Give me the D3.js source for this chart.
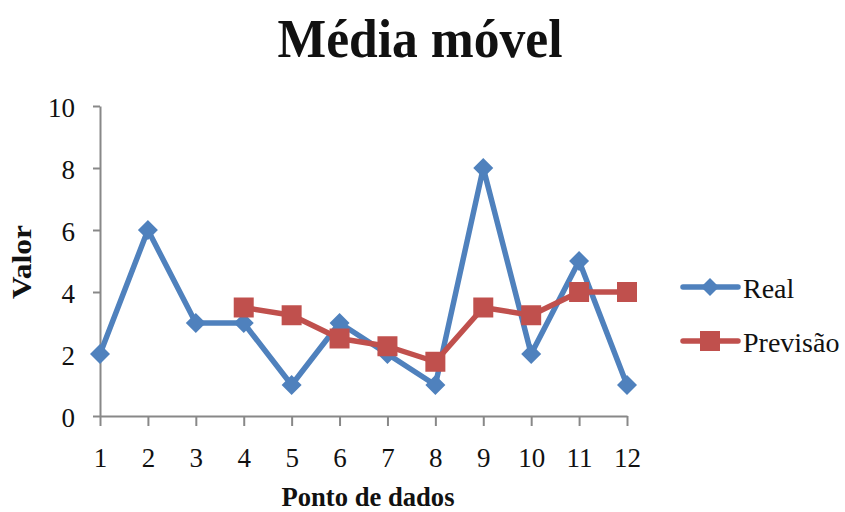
<!DOCTYPE html>
<html>
<head>
<meta charset="utf-8">
<script src="https://cdn.jsdelivr.net/npm/d3@7"></script>
<style>
  html, body { margin: 0; padding: 0; background: #fff; }
  svg { display: block; }
  text { font-family: "Liberation Serif", "Times New Roman", serif; fill: #111; }
</style>
</head>
<body>
<div id="chart"></div>
<script>
// Data: observed values and 4-period moving-average forecast
const categories = [1, 2, 3, 4, 5, 6, 7, 8, 9, 10, 11, 12];
const realValues = [2, 6, 3, 3, 1, 3, 2, 1, 8, 2, 5, 1];
const forecastValues = [null, null, null, 3.5, 3.25, 2.5, 2.25, 1.75, 3.5, 3.25, 4, 4];
const yTicks = [0, 2, 4, 6, 8, 10];
const seriesNames = ["Real", "Previsão"];

const W = 845, H = 512;
const blue = "#4F81BD", red = "#C0504D", axisColor = "#888888";

const svg = d3.select("#chart").append("svg")
  .attr("width", W).attr("height", H);

const x = d3.scaleLinear().domain([1, 12]).range([100, 627]);
const y = d3.scaleLinear().domain([0, 10]).range([416, 106]);

// Title
svg.append("text")
  .attr("x", 420).attr("y", 57)
  .attr("text-anchor", "middle")
  .attr("font-size", 54).attr("font-weight", "bold")
  .attr("textLength", 285).attr("lengthAdjust", "spacingAndGlyphs")
  .text("Média móvel");

// Y axis
const yAxis = svg.append("g")
  .attr("transform", `translate(${x(1)},0)`)
  .call(d3.axisLeft(y).tickValues(yTicks).tickSize(7).tickSizeOuter(0).tickPadding(18));

// X axis
const xAxis = svg.append("g")
  .attr("transform", `translate(0,${y(0)})`)
  .call(d3.axisBottom(x).tickValues(categories).tickFormat(d3.format("d"))
    .tickSize(10).tickSizeOuter(0).tickPadding(22));

[yAxis, xAxis].forEach(g => {
  g.select(".domain").attr("stroke", axisColor).attr("stroke-width", 2);
  g.selectAll(".tick line").attr("stroke", axisColor).attr("stroke-width", 2);
  g.selectAll(".tick text")
    .attr("font-family", "Liberation Serif, serif")
    .attr("font-size", 27).attr("fill", "#111");
});
yAxis.selectAll(".tick text").attr("dy", "0.38em");

// Axis titles
svg.append("text")
  .attr("transform", `translate(31,262) rotate(-90)`)
  .attr("text-anchor", "middle")
  .attr("font-size", 27).attr("font-weight", "bold")
  .attr("textLength", 74).attr("lengthAdjust", "spacingAndGlyphs")
  .text("Valor");

svg.append("text")
  .attr("x", 368).attr("y", 506)
  .attr("text-anchor", "middle")
  .attr("font-size", 27).attr("font-weight", "bold")
  .attr("textLength", 173).attr("lengthAdjust", "spacingAndGlyphs")
  .text("Ponto de dados");

// Marker shapes
const diamond = (cx, cy, r) => `M${cx},${cy - r}L${cx + r},${cy}L${cx},${cy + r}L${cx - r},${cy}Z`;
const square = (cx, cy, s) => `M${cx - s},${cy - s}H${cx + s}V${cy + s}H${cx - s}Z`;

const line = d3.line()
  .defined(d => d.v != null)
  .x(d => x(d.c)).y(d => y(d.v));

const realData = categories.map((c, i) => ({ c, v: realValues[i] }));
const forecastData = categories.map((c, i) => ({ c, v: forecastValues[i] }));

// Real series
svg.append("path").datum(realData)
  .attr("d", line).attr("fill", "none")
  .attr("stroke", blue).attr("stroke-width", 5.5).attr("stroke-linejoin", "round");
svg.append("g").selectAll("path").data(realData).join("path")
  .attr("d", d => diamond(x(d.c), y(d.v), 10))
  .attr("fill", blue);

// Forecast series
svg.append("path").datum(forecastData)
  .attr("d", line).attr("fill", "none")
  .attr("stroke", red).attr("stroke-width", 5.5).attr("stroke-linejoin", "round");
svg.append("g").selectAll("path").data(forecastData.filter(d => d.v != null)).join("path")
  .attr("d", d => square(x(d.c), y(d.v), 10))
  .attr("fill", red);

// Legend
const legend = svg.append("g");
const legendRows = [
  { name: seriesNames[0], color: blue, marker: (cx, cy) => diamond(cx, cy, 9), ly: 287, ty: 298 },
  { name: seriesNames[1], color: red, marker: (cx, cy) => square(cx, cy, 10), ly: 341, ty: 352 }
];
legendRows.forEach(r => {
  legend.append("line")
    .attr("x1", 683).attr("x2", 738).attr("y1", r.ly).attr("y2", r.ly)
    .attr("stroke", r.color).attr("stroke-width", 5.5).attr("stroke-linecap", "round");
  legend.append("path").attr("d", r.marker(710, r.ly)).attr("fill", r.color);
  legend.append("text")
    .attr("x", 743).attr("y", r.ty)
    .attr("font-size", 28)
    .text(r.name);
});
</script>
</body>
</html>
